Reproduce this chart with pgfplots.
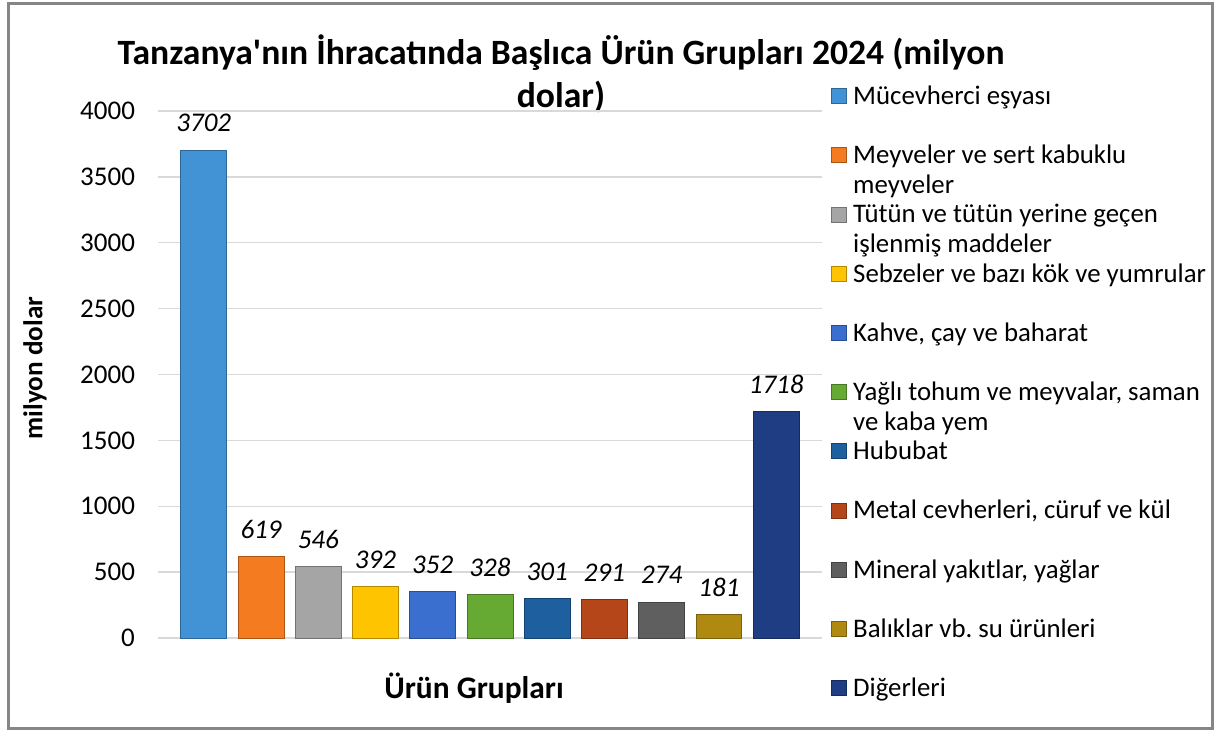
\documentclass[border=0pt]{standalone}
\usepackage{pgfplots}
\pgfplotsset{compat=1.18}
\usepackage{fontspec}
\setmainfont{Carlito}
\frenchspacing
\definecolor{c1}{RGB}{66,146,214}
\definecolor{c2}{RGB}{244,123,32}
\definecolor{c3}{RGB}{165,165,165}
\definecolor{c4}{RGB}{255,196,0}
\definecolor{c5}{RGB}{58,111,208}
\definecolor{c6}{RGB}{102,170,51}
\definecolor{c7}{RGB}{30,95,160}
\definecolor{c8}{RGB}{180,70,26}
\definecolor{c9}{RGB}{95,95,95}
\definecolor{c10}{RGB}{176,138,16}
\definecolor{c11}{RGB}{31,61,130}
\definecolor{frame}{RGB}{134,134,134}
\newcommand{\lt}[1]{\parbox[t]{195pt}{#1}}
\begin{document}
\begin{tikzpicture}
\useasboundingbox (0,0) rectangle (609.5pt,366.5pt);
\draw[frame, line width=1.5pt] (4.25pt,2.25pt) rectangle (606.25pt,364.75pt);
\node[font=\bfseries\fontsize{17.8pt}{21.5pt}\selectfont, align=center] at (280.5pt,329.5pt)
  {Tanzanya\textquotesingle nın İhracatında Başlıca Ürün Grupları 2024 (milyon\\ dolar)};
\node[font=\bfseries\fontsize{13.6pt}{16pt}\selectfont, rotate=90] at (17.5pt,182.5pt) {milyon dolar};
\node[font=\bfseries\fontsize{15.7pt}{18pt}\selectfont] at (237pt,22.5pt) {Ürün Grupları};
\begin{axis}[
  at={(79pt,47.5pt)}, anchor=south west,
  scale only axis, width=332pt, height=263.5pt,
  xmin=-0.8, xmax=10.8, ymin=0, ymax=4000,
  ytick={0,500,...,4000}, xtick=\empty,
  ybar, bar shift=0pt, bar width=0.8,
  ymajorgrids, grid style={line width=0.7pt, color=black!15},
  axis line style={draw=none}, major tick length=0pt,
  scaled y ticks=false,
  /pgf/number format/1000 sep={},
  /pgf/number format/assume math mode=true,
  yticklabel style={font=\fontsize{13.5pt}{16pt}\selectfont, xshift=-8pt},
  nodes near coords,
  nodes near coords style={font=\itshape\fontsize{13.5pt}{16pt}\selectfont, anchor=center, yshift=13.5pt, text=black},
  legend style={at={(1,1)}, anchor=north west, xshift=4.5pt, yshift=14pt,
    draw=none, fill=none, inner sep=0pt, row sep=19.1pt, column sep=3pt,
    font=\fontsize{13.4pt}{15pt}\selectfont,
    nodes={inner sep=0pt, text height=10.5pt, text depth=0pt}, cells={anchor=base west}},
  legend image code/.code={\draw[#1, line width=0.4pt] (0pt,0.4pt) rectangle (7.5pt,7.9pt);},
]
\addplot[fill=c1, draw=c1!70!black] coordinates {(0,3702)};
\addplot[fill=c2, draw=c2!70!black] coordinates {(1,619)};
\addplot[fill=c3, draw=c3!70!black] coordinates {(2,546)};
\addplot[fill=c4, draw=c4!70!black] coordinates {(3,392)};
\addplot[fill=c5, draw=c5!70!black] coordinates {(4,352)};
\addplot[fill=c6, draw=c6!70!black] coordinates {(5,328)};
\addplot[fill=c7, draw=c7!70!black] coordinates {(6,301)};
\addplot[fill=c8, draw=c8!70!black] coordinates {(7,291)};
\addplot[fill=c9, draw=c9!70!black] coordinates {(8,274)};
\addplot[fill=c10, draw=c10!70!black] coordinates {(9,181)};
\addplot[fill=c11, draw=c11!70!black] coordinates {(10,1718)};
\legend{\lt{Mücevherci eşyası},
  \lt{Meyveler ve sert kabuklu\\meyveler},
  \lt{Tütün ve tütün yerine geçen\\işlenmiş maddeler},
  \lt{Sebzeler ve bazı kök ve yumrular},
  \lt{Kahve, çay ve baharat},
  \lt{Yağlı tohum ve meyvalar, saman\\ve kaba yem},
  \lt{Hububat},
  \lt{Metal cevherleri, cüruf ve kül},
  \lt{Mineral yakıtlar, yağlar},
  \lt{Balıklar vb. su ürünleri},
  \lt{Diğerleri}}
\end{axis}
\end{tikzpicture}
\end{document}
